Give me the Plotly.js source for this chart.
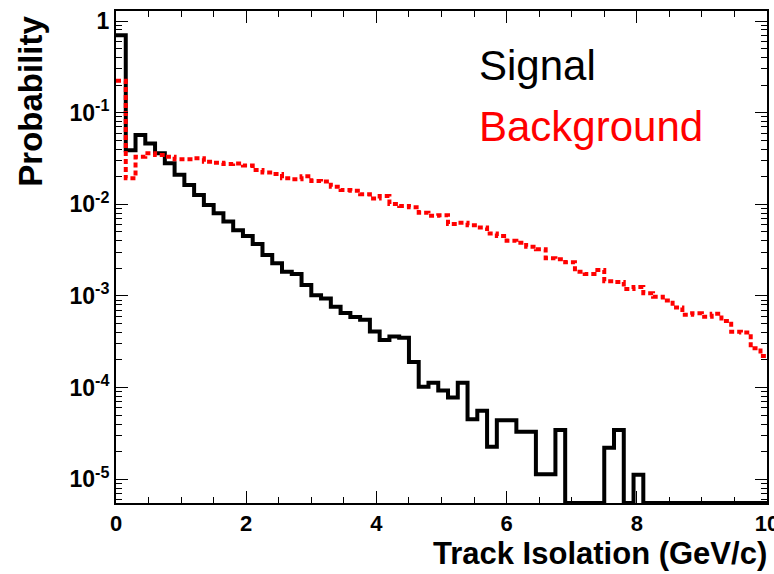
<!DOCTYPE html>
<html>
<head>
<meta charset="utf-8">
<script src="https://cdn.plot.ly/plotly-3.0.1.min.js"></script>
<style>
  html, body { margin: 0; padding: 0; background: #fff; }
  #chart { width: 774px; height: 574px; }
</style>
</head>
<body>
<div id="chart"></div>
<script>
// ---- data ----
const binStart = 0;
const binWidth = 0.15;

const signalValues = [
  0.70, 0.039, 0.057, 0.046, 0.036, 0.028, 0.021, 0.0162, 0.0126, 0.0098,
  0.0080, 0.0065, 0.0052, 0.0045, 0.0037, 0.0028, 0.00227, 0.00184, 0.00174, 0.00132,
  0.00102, 0.00094, 0.00076, 0.00065, 0.00059, 0.00055, 0.00041, 0.00033, 0.00036, 0.00035,
  0.00019, 0.000102, 0.000113, 0.000093, 0.000078, 0.000113, 0.000045, 0.000056, 0.0000226, 0.000044,
  0.000044, 0.000033, 0.000033, 0.0000113, 0.0000113, 0.0000345, 0, 0, 0, 0,
  0.000022, 0.0000345, 0, 0.0000112, 0, 0, 0, 0, 0, 0,
  0, 0, 0, 0, 0, 0, 0
];

const backgroundValues = [
  0.223, 0.0192, 0.033, 0.036, 0.0345, 0.033, 0.031, 0.031, 0.0318, 0.0292,
  0.0284, 0.0275, 0.0279, 0.0265, 0.0237, 0.0223, 0.0214, 0.0192, 0.0188, 0.0203,
  0.0180, 0.0177, 0.01556, 0.01432, 0.0141, 0.01285, 0.0116, 0.0123, 0.0101, 0.0096,
  0.0093, 0.0081, 0.0075, 0.0076, 0.0061, 0.0063, 0.0059, 0.0056, 0.0048, 0.0045,
  0.0040, 0.0038, 0.00345, 0.00323, 0.00258, 0.00251, 0.00233, 0.00184, 0.00174, 0.00192,
  0.00145, 0.00142, 0.00119, 0.00125, 0.00107, 0.00098, 0.00089, 0.00075, 0.000625, 0.000646,
  0.000594, 0.00064, 0.000533, 0.000407, 0.000398, 0.000268, 0.000221
];

const xTickVals = [0, 2, 4, 6, 8, 10];
const xTickText = ['0', '2', '4', '6', '8', '10'];
const yTickVals = [1, 0.1, 0.01, 0.001, 0.0001, 0.00001];
const yTickText = ['1', '10<sup>-1</sup>', '10<sup>-2</sup>', '10<sup>-3</sup>', '10<sup>-4</sup>', '10<sup>-5</sup>'];

const xTitle = 'Track Isolation (GeV/c)';
const yTitle = 'Probability';
const signalName = 'Signal';
const backgroundName = 'Background';

// ---- build ----
const yLogRange = [-5.26, 0.11];
const floorVal = Math.pow(10, yLogRange[0]);

function stepTrace(values) {
  const xs = [], ys = [];
  for (let i = 0; i < values.length; i++) {
    xs.push(binStart + i * binWidth);
    ys.push(values[i] > 0 ? values[i] : floorVal);
  }
  xs.push(binStart + values.length * binWidth);
  ys.push(values[values.length - 1] > 0 ? values[values.length - 1] : floorVal);
  return { xs, ys };
}

const s = stepTrace(signalValues);
const b = stepTrace(backgroundValues);

const FONT = 'Liberation Sans, Arial, Helvetica, sans-serif';

const traces = [
  {
    x: s.xs, y: s.ys, type: 'scatter', mode: 'lines', name: signalName,
    line: { shape: 'hv', color: '#000000', width: 4 },
    hoverinfo: 'skip'
  },
  {
    x: b.xs, y: b.ys, type: 'scatter', mode: 'lines', name: backgroundName,
    line: { shape: 'hv', color: '#ff0000', width: 4, dash: '5px,3px' },
    hoverinfo: 'skip'
  }
];

const layout = {
  width: 774, height: 574,
  margin: { l: 116, r: 7, t: 11, b: 71 },
  paper_bgcolor: '#ffffff', plot_bgcolor: '#ffffff',
  showlegend: false,
  font: { family: FONT, color: '#000' },
  xaxis: {
    range: [0, 10],
    tickmode: 'array', tickvals: xTickVals, ticktext: xTickText,
    ticks: 'inside', ticklen: 12, tickwidth: 1, tickcolor: '#000',
    minor: { dtick: 0.5, tick0: 0, ticks: 'inside', ticklen: 6, tickcolor: '#000', tickwidth: 1, showgrid: false },
    showline: true, linecolor: '#000', linewidth: 2, mirror: 'ticks',
    showgrid: false, zeroline: false,
    ticklabeloverflow: 'allow',
    tickfont: { family: FONT, size: 22, weight: 'bold', color: '#000' }
  },
  yaxis: {
    type: 'log', range: yLogRange,
    tickmode: 'array', tickvals: yTickVals, ticktext: yTickText,
    ticks: 'inside', ticklen: 12, tickwidth: 1, tickcolor: '#000',
    minor: { dtick: 'D1', ticks: 'inside', ticklen: 6, tickcolor: '#000', tickwidth: 1, showgrid: false },
    showline: true, linecolor: '#000', linewidth: 2, mirror: 'ticks',
    showgrid: false, zeroline: false,
    ticklabeloverflow: 'allow',
    tickfont: { family: FONT, size: 23, weight: 'bold', color: '#000' }
  },
  annotations: [
    {
      text: xTitle, xref: 'paper', yref: 'paper',
      x: 1.003, y: -0.102, xanchor: 'right', yanchor: 'middle', showarrow: false,
      font: { family: FONT, size: 31, weight: 'bold', color: '#000' }
    },
    {
      text: yTitle, xref: 'paper', yref: 'paper', textangle: -90,
      x: -0.131, y: 0.995, xanchor: 'center', yanchor: 'top', showarrow: false,
      font: { family: FONT, size: 33, weight: 'bold', color: '#000' }
    },
    {
      text: signalName, xref: 'paper', yref: 'paper',
      x: 0.555, y: 0.89, xanchor: 'left', yanchor: 'middle', showarrow: false,
      font: { family: FONT, size: 42, color: '#000' }
    },
    {
      text: backgroundName, xref: 'paper', yref: 'paper',
      x: 0.555, y: 0.765, xanchor: 'left', yanchor: 'middle', showarrow: false,
      font: { family: FONT, size: 42, color: '#ff0000' }
    }
  ]
};

Plotly.newPlot('chart', traces, layout, { staticPlot: true, displayModeBar: false });
</script>
</body>
</html>
